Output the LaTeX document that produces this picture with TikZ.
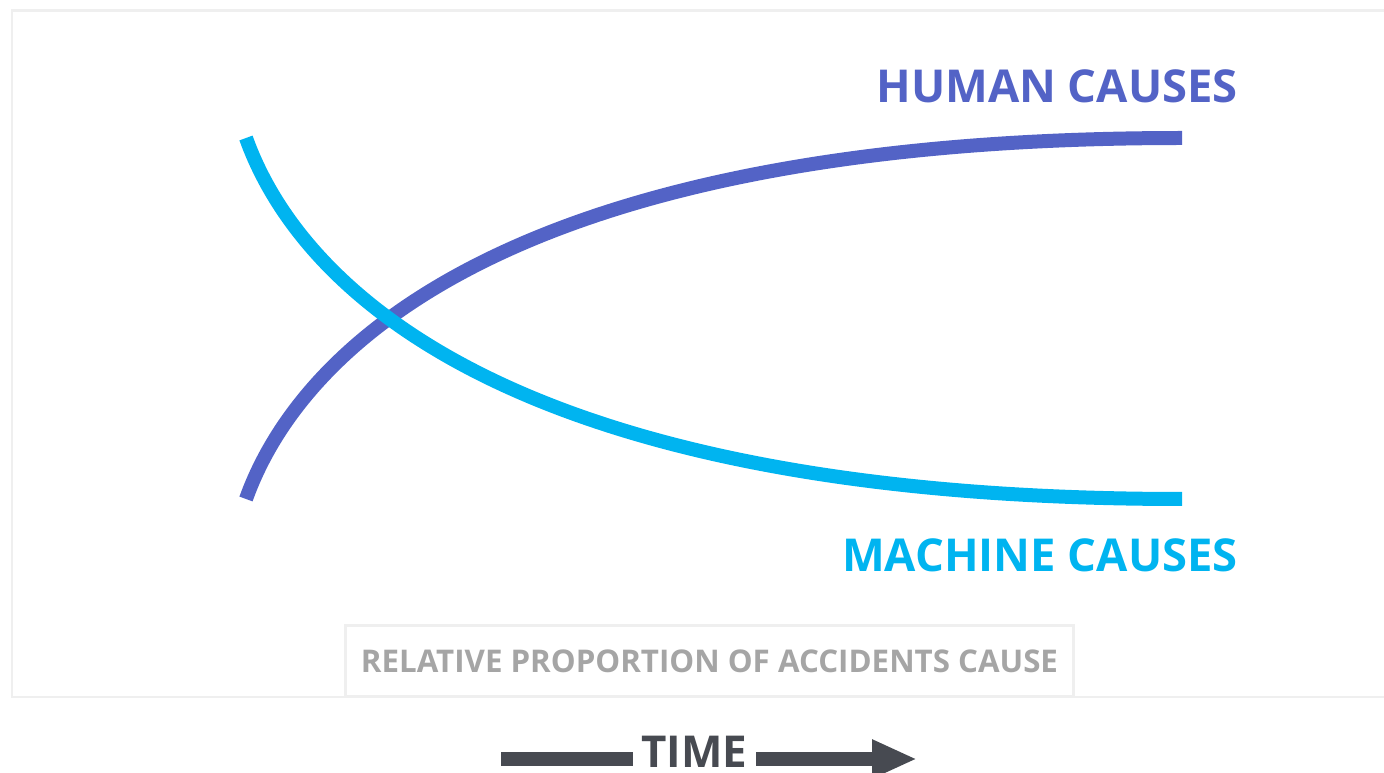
\documentclass[tikz,border=0pt]{standalone}
\usepackage{fontspec}
\setmainfont{Open Sans}
\usepackage{tikz}
\usetikzlibrary{arrows.meta}

\definecolor{humanblue}{HTML}{5363C6}
\definecolor{machinecyan}{HTML}{00B4F0}
\definecolor{framegray}{HTML}{EFEFEF}
\definecolor{captiongray}{HTML}{A5A5A5}
\definecolor{timegray}{HTML}{474A51}

\begin{document}
\begin{tikzpicture}[x=0.02cm,y=-0.02cm,
  curve/.style={line width=0.28cm,line cap=butt},
  tag/.style={anchor=east,inner sep=0pt,font=\bfseries\fontsize{25.8}{30}\selectfont}]
\useasboundingbox (0,0) rectangle (1384,773);
% frame
\draw [framegray,line width=0.06cm] (1384,11) -- (12,11) -- (12,697) -- (1384,697);
\path (709.5,661) node (caption) [draw=framegray,line width=0.06cm,fill=white,
  minimum width=14.58cm,minimum height=1.44cm,text=captiongray,
  font=\bfseries\fontsize{17.8}{20}\selectfont] {RELATIVE PROPORTION OF ACCIDENTS CAUSE};

% curves
\coordinate (hstart) at (246,499);
\coordinate (hend) at (1182,138);
\coordinate (mstart) at (246,138);
\coordinate (mend) at (1182,499);
\draw [curve,humanblue] (hstart) .. controls (286,387) and (451,138) .. (hend);
\draw [curve,machinecyan] (mstart) .. controls (286,250) and (451,499) .. (mend);

\path (1238,86) node (human) [tag,text=humanblue] {HUMAN\ CAUSES};
\path (1238,555) node (machine) [tag,text=machinecyan] {MACHINE\ CAUSES};

% time arrow
\path (694.5,752) node (time) [inner sep=0pt,minimum width=2.46cm,text=timegray,
  font=\bfseries\fontsize{25}{28}\selectfont] {TIME};
\coordinate (tstart) at (501,759);
\coordinate (tend) at (917,759);
\draw [timegray,line width=0.3cm] (tstart) -- (time.west |- tstart);
\draw [timegray,line width=0.3cm,-{Triangle[length=0.9cm,width=0.72cm]}] (time.east |- tend) -- (tend);
\end{tikzpicture}
\end{document}
